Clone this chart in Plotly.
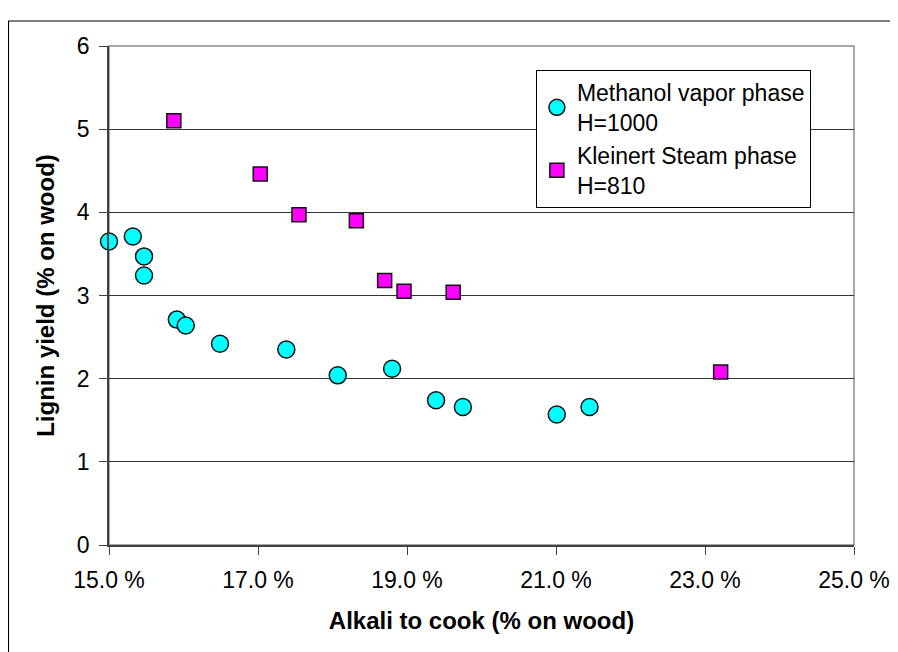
import plotly.graph_objects as go

# Methanol vapor phase, H=1000
methanol_alkali = [15.00, 15.32, 15.47, 15.47, 15.91, 16.03, 16.49, 17.38,
                   18.07, 18.80, 19.39, 19.75, 21.01, 21.45]
methanol_lignin = [3.65, 3.71, 3.47, 3.24, 2.71, 2.64, 2.42, 2.35,
                   2.04, 2.12, 1.74, 1.66, 1.57, 1.66]

# Kleinert steam phase, H=810
kleinert_alkali = [15.87, 17.03, 17.55, 18.32, 18.70, 18.96, 19.62, 23.21]
kleinert_lignin = [5.10, 4.46, 3.97, 3.90, 3.18, 3.05, 3.04, 2.08]

FONT = "Arial, Liberation Sans, sans-serif"

fig = go.Figure()
fig.add_trace(go.Scatter(
    x=methanol_alkali, y=methanol_lignin, mode="markers",
    name="Methanol vapor phase<br>H=1000", cliponaxis=False,
    marker=dict(symbol="circle", size=17, color="#00FFFF",
                line=dict(color="#111111", width=1.5)),
))
fig.add_trace(go.Scatter(
    x=kleinert_alkali, y=kleinert_lignin, mode="markers",
    name="Kleinert Steam phase<br>H=810", cliponaxis=False,
    marker=dict(symbol="square", size=14, color="#FF00FF",
                line=dict(color="#111111", width=1.5)),
))

# plot-area frame (grey) and outer chart frame (runs off the right/bottom edge)
fig.add_shape(type="rect", xref="paper", yref="paper", x0=0, x1=1, y0=0, y1=1,
              line=dict(color="#8c8c8c", width=1.5), layer="below")
fig.add_shape(type="rect", xref="paper", yref="paper",
              x0=-0.1349, x1=1.08, y0=-0.24, y1=1.0501,
              line=dict(color="#000000", width=1.2), layer="below")

# the page body adds an 8px offset, so the figure is 8px smaller and shifted
fig.update_layout(
    width=890, height=644,
    margin=dict(l=101, r=44, t=38, b=107),
    paper_bgcolor="white", plot_bgcolor="white",
    font=dict(family=FONT, size=23, color="#000000"),
    showlegend=True,
    legend=dict(
        x=0.573, y=0.952, xanchor="left", yanchor="top",
        bgcolor="white", bordercolor="#000000", borderwidth=1,
        font=dict(size=23), itemwidth=30, tracegroupgap=0,
    ),
    xaxis=dict(
        range=[15, 25], dtick=2, tick0=15, tickformat=".1f", ticksuffix=" %",
        showgrid=False, zeroline=False, automargin=False,
        showline=True, linecolor="#404040", linewidth=1.5,
        ticks="outside", ticklen=8, tickcolor="#404040",
        tickfont=dict(size=23), ticklabelstandoff=6,
        title=dict(text="<b>Alkali to cook (% on wood)</b>", standoff=20,
                   font=dict(size=24)),
    ),
    yaxis=dict(
        range=[0, 6], dtick=1, tick0=0, automargin=False,
        showgrid=True, gridcolor="#333333", gridwidth=1.2, zeroline=False,
        showline=True, linecolor="#404040", linewidth=1.5,
        ticks="outside", ticklen=8, tickcolor="#404040",
        tickfont=dict(size=23), ticklabelstandoff=5,
        title=dict(text="<b>Lignin yield (% on wood)</b>", standoff=15,
                   font=dict(size=24)),
    ),
)

fig.write_html("out.html")
